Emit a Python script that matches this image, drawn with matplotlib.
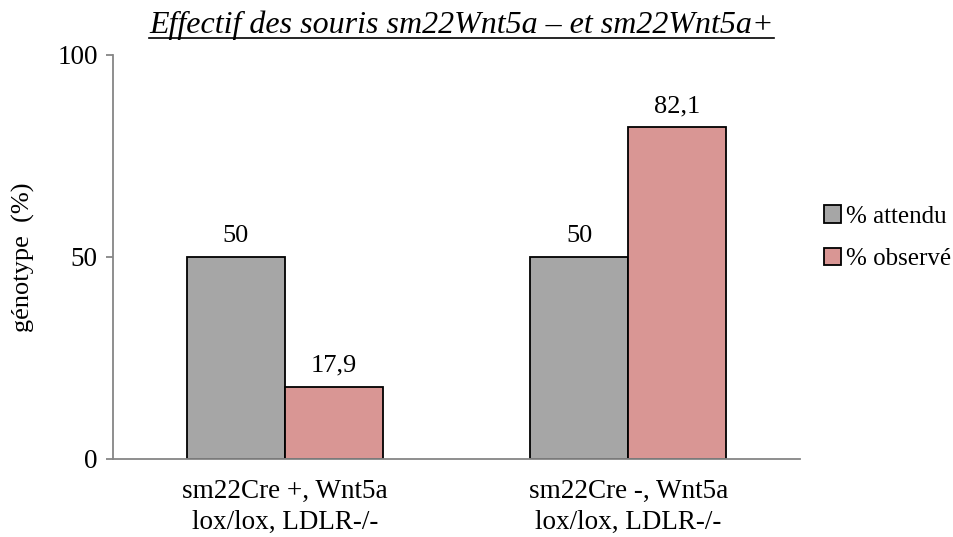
import numpy as np
import matplotlib.pyplot as plt
from matplotlib.patches import Patch

plt.rcParams['font.family'] = ['Liberation Serif', 'DejaVu Serif']

categories = ["sm22Cre +, Wnt5a\nlox/lox, LDLR-/-", "sm22Cre -, Wnt5a\nlox/lox, LDLR-/-"]
attendu = [50, 50]
observe = [17.9, 82.1]
series_names = ["% attendu", "% observé"]

grey = "#A6A6A6"
pink = "#D99694"
axis_grey = "#868686"

fig = plt.figure(figsize=(9.54, 5.37), dpi=100)
ax = fig.add_axes([0.1185, 0.1453, 0.72, 0.7523])

x = np.arange(len(categories))
w = 0.286
b1 = ax.bar(x - w / 2, attendu, w, color=grey, edgecolor="black", linewidth=1.3)
b2 = ax.bar(x + w / 2, observe, w, color=pink, edgecolor="black", linewidth=1.3)

for bars, vals in ((b1, attendu), (b2, observe)):
    for r, v in zip(bars, vals):
        txt = f"{v:g}".replace(".", ",")
        ax.text(r.get_x() + r.get_width() / 2, v + 2.5, txt,
                ha="center", va="bottom", fontsize=19)

ax.set_xlim(-0.5, 1.5)
ax.set_ylim(0, 100)
ax.set_yticks([0, 50, 100])
ax.set_xticks(x)
ax.set_xticklabels(categories, fontsize=19.5, linespacing=1.35)
ax.tick_params(axis="x", length=0, pad=14)
ax.tick_params(axis="y", labelsize=19.5, length=5, width=1.3, color=axis_grey, pad=6)

for s in ("top", "right"):
    ax.spines[s].set_visible(False)
for s in ("left", "bottom"):
    ax.spines[s].set_color(axis_grey)
    ax.spines[s].set_linewidth(1.3)

ax.set_ylabel("génotype  (%)", fontsize=19, labelpad=16)

title = fig.text(0.484, 0.953, "Effectif des souris sm22Wnt5a – et sm22Wnt5a+",
                 ha="center", va="center", fontsize=23, style="italic")
# underline the title across its drawn width
fig.canvas.draw()
bb = title.get_window_extent().transformed(fig.transFigure.inverted())
fig.add_artist(plt.Line2D([bb.x0, bb.x1], [0.929, 0.929], color="black", linewidth=1.2,
                          transform=fig.transFigure))

handles = [Patch(facecolor=grey, edgecolor="black", linewidth=1.3),
           Patch(facecolor=pink, edgecolor="black", linewidth=1.3)]
fig.legend(handles, series_names, loc="center left", bbox_to_anchor=(0.853, 0.557),
           frameon=False, fontsize=18, handlelength=0.7, handleheight=0.7,
           handletextpad=0.2, labelspacing=0.8, borderaxespad=0)

fig.savefig("out.png", dpi=100)
